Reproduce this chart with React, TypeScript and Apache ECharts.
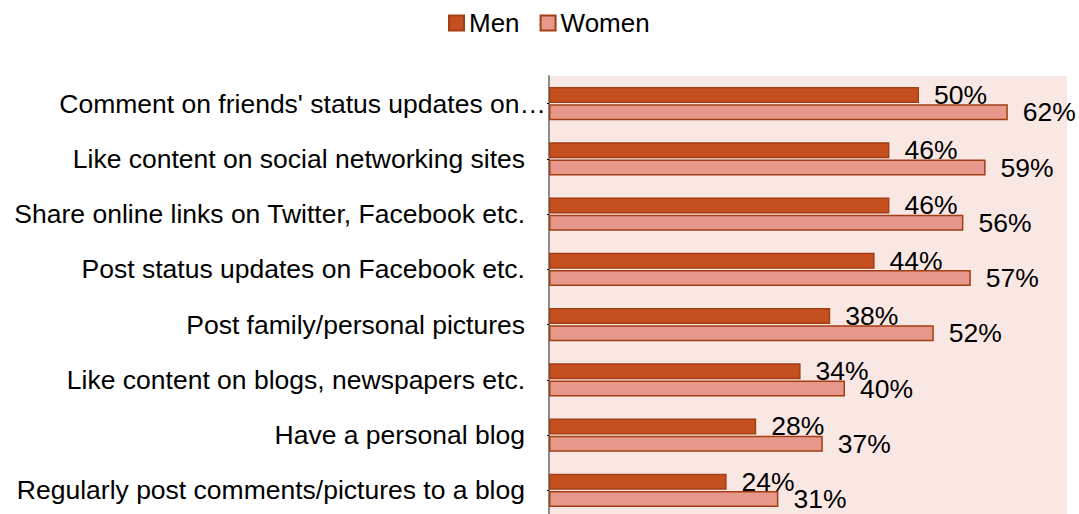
import React, { useEffect, useRef } from "react";
import * as echarts from "echarts";

const categories = [
  "Comment on friends' status updates on…",
  "Like content on social networking sites",
  "Share online links on Twitter, Facebook etc.",
  "Post status updates on Facebook etc.",
  "Post family/personal pictures",
  "Like content on blogs, newspapers etc.",
  "Have a personal blog",
  "Regularly post comments/pictures to a blog",
];
const men = [50, 46, 46, 44, 38, 34, 28, 24];
const women = [62, 59, 56, 57, 52, 40, 37, 31];

const FONT = "'Liberation Sans', Arial, sans-serif";

export default function App() {
  const ref = useRef<HTMLDivElement>(null);
  useEffect(() => {
    const chart = echarts.init(ref.current!, null, { renderer: "svg" });
    const label = {
      show: true,
      position: "right",
      distance: 15,
      formatter: "{c}%",
      fontSize: 26.5,
      color: "#000",
      fontFamily: FONT,
    };
    chart.setOption({
      animation: false,
      textStyle: { fontFamily: FONT },
      legend: {
        top: 5,
        left: 443,
        itemWidth: 15,
        itemHeight: 15,
        itemGap: 20,
        textStyle: { fontSize: 26, color: "#000", fontFamily: FONT },
        data: [
          { name: "Men", icon: "rect" },
          { name: "Women", icon: "rect" },
        ],
      },
      grid: {
        left: 549,
        right: 12,
        top: 76,
        bottom: 0,
        show: true,
        backgroundColor: "#F9E7E4",
        borderWidth: 0,
      },
      xAxis: {
        type: "value",
        min: 0,
        max: 70,
        show: false,
      },
      yAxis: {
        type: "category",
        inverse: true,
        data: categories,
        axisLine: { show: true, lineStyle: { color: "#8c8c8c", width: 2 } },
        axisTick: { show: true, length: 2, alignWithLabel: true, lineStyle: { color: "#000" } },
        axisLabel: {
          margin: 3,
          fontSize: 26.5,
          color: "#000",
          fontFamily: FONT,
          formatter: (v: string, i: number) => (i === 0 ? v : "{p|" + v + "}"),
          rich: { p: { fontSize: 26.5, fontFamily: FONT, color: "#000", padding: [0, 21, 0, 0] } },
        },
      },
      series: [
        {
          name: "Men",
          type: "bar",
          data: men,
          barWidth: 16,
          barGap: "8%",
          itemStyle: { color: "#C4501F", borderColor: "#A33D15", borderWidth: 1.5 },
          label,
        },
        {
          name: "Women",
          type: "bar",
          data: women,
          barWidth: 16,
          itemStyle: { color: "#E6998A", borderColor: "#A33D15", borderWidth: 1.5 },
          label,
        },
      ],
    });
    return () => chart.dispose();
  }, []);
  return (
    <div
      ref={ref}
      style={{ position: "absolute", left: 0, top: 0, width: 1079, height: 518, background: "#fff" }}
    />
  );
}
